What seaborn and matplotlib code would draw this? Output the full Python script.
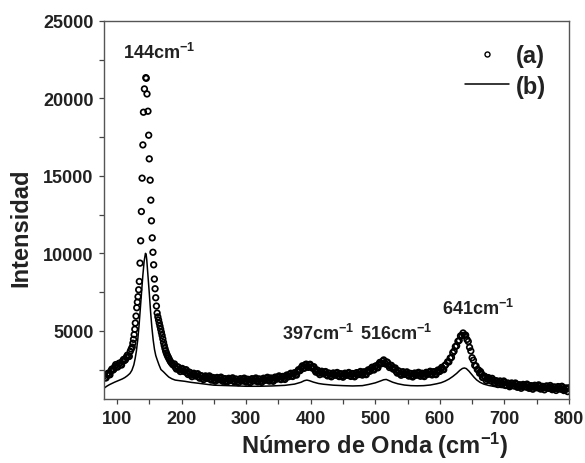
import numpy as np
import pandas as pd
import matplotlib
matplotlib.use("Agg")
import matplotlib.pyplot as plt
import seaborn as sns
from matplotlib.lines import Line2D
from matplotlib.ticker import MultipleLocator

# ==========================================
# Data
# ==========================================
# (a) open circles
x_a = [80, 83, 86, 89, 92, 95, 98, 101, 104, 107, 110, 113, 116, 119, 122,
       123.5, 124.5, 125.5, 126.5, 127.5, 128.3, 129.4, 130.5, 131.5, 132.5,
       133.5, 134.5, 135.6, 136.6, 137.7, 138.8, 140.0, 140.9, 142.4, 144.6,
       145.2, 146.4, 147.9, 149.0, 149.9, 151.3, 152.3, 153.3, 154.5, 155.6,
       156.7, 157.8, 158.9, 159.9, 161.0, 162.1, 163.2, 164.3, 165.4, 166.5,
       167.6, 168.7, 169.8, 170.9, 172.0, 173.1, 174.2, 175.3, 176.4, 177.5,
       178.6, 179.7, 181, 182.5, 184, 185.5, 187,
       189, 192, 195, 198, 201, 204, 207, 210, 213, 216, 219, 222, 225, 228,
       231, 234, 237, 240, 243, 246, 249, 252, 255, 258, 261, 264, 267, 270,
       273, 276, 279, 282, 285, 288, 291, 294, 297, 300, 303, 306, 309, 312,
       315, 318, 321, 324, 327, 330, 333, 336, 339, 342, 345, 348, 351, 354,
       357, 360, 363, 366, 369, 372, 375, 378, 381, 384, 387, 390, 393, 396,
       399, 402, 405, 408, 411, 414, 417, 420, 423, 426, 429, 432, 435, 438,
       441, 444, 447, 450, 453, 456, 459, 462, 465, 468, 471, 474, 477, 480,
       483, 486, 489, 492, 495, 498, 501, 504, 507, 510, 513, 516, 519, 522,
       525, 528, 531, 534, 537, 540, 543, 546, 549, 552, 555, 558, 561, 564,
       567, 570, 573, 576, 579, 582, 585, 588, 591, 594, 597, 600, 603, 606,
       609, 612, 614, 616, 618, 620, 622, 624, 626, 628, 630, 632, 634, 636,
       638, 640, 642, 644, 646, 648, 650, 652, 654, 656, 658, 660,
       663, 666, 669, 672, 675, 678, 681, 684, 687, 690, 693, 696, 699, 702,
       705, 708, 711, 714, 717, 720, 723, 726, 729, 732, 735, 738, 741, 744,
       747, 750, 753, 756, 759, 762, 765, 768, 771, 774, 777, 780, 783, 786,
       789, 792, 795, 798, 800]
y_a = [2090, 1960, 2260, 2160, 2530, 2510, 2820, 2660, 2920, 2790, 3150, 3130, 3430, 3350, 3820,
       3950, 4200, 4450, 4750, 5100, 5500, 5950, 6490, 6850, 7200,
       7650, 8185, 9370, 10810, 12700, 14855, 17000, 19110, 20614, 21343,
       21300, 20290, 19175, 17627, 16100, 14725, 13435, 12100, 11000, 10070,
       9260, 8340, 7715, 7135, 6600, 6145, 5900, 5700, 5500, 5300,
       5100, 4900, 4700, 4480, 4250, 4050, 3860, 3700, 3570, 3450,
       3350, 3260, 3150, 3030, 2940, 2860, 2790,
       2860, 2530, 2650, 2370, 2570, 2370, 2490, 2180, 2310, 2040, 2260, 2080, 2230, 1940,
       2090, 1850, 2090, 1930, 2090, 1815, 1980, 1745, 1990, 1840, 2010, 1740, 1910, 1680,
       1935, 1790, 1965, 1700, 1875, 1650, 1910, 1765, 1945, 1685, 1865, 1645, 1910, 1770,
       1955, 1700, 1885, 1670, 1940, 1810, 2000, 1750, 1945, 1740, 2015, 1890, 2090, 1850,
       2055, 1860, 2150, 2040, 2260, 2050, 2290, 2140, 2490, 2450, 2740, 2580, 2850, 2640,
       2840, 2600, 2680, 2330, 2440, 2170, 2390, 2220, 2370, 2090, 2260, 2030, 2280, 2135,
       2310, 2045, 2225, 2005, 2265, 2130, 2310, 2055, 2240, 2030, 2300, 2175, 2375, 2140,
       2350, 2170, 2480, 2400, 2650, 2470, 2740, 2610, 2960, 2890, 3120, 2850, 2960, 2630,
       2770, 2520, 2600, 2270, 2390, 2130, 2360, 2190, 2350, 2075, 2245, 2020, 2275, 2135,
       2320, 2065, 2255, 2045, 2320, 2200, 2390, 2150, 2360, 2170, 2470, 2380, 2640, 2490,
       2810, 3000, 2990, 3240, 3280, 3590, 3690, 3980, 4030, 4320, 4380, 4670, 4700, 4860,
       4710, 4720, 4440, 4310, 3930, 3700, 3260, 3100, 2770, 2730, 2500, 2470,
       2370, 1990, 2080, 1780, 1980, 1790, 1930, 1630, 1780, 1530, 1760, 1600, 1760, 1470,
       1630, 1390, 1630, 1470, 1630, 1355, 1520, 1290, 1540, 1390, 1560, 1290, 1460, 1230,
       1485, 1335, 1510, 1240, 1415, 1190, 1440, 1295, 1470, 1200, 1375, 1150, 1400, 1250,
       1420, 1145, 1310, 1075, 1325]

# (a) extra readings in between (the dense noisy band)
x_a_mid = [81.5, 84.5, 87.5, 90.5, 93.5, 96.5, 99.5, 102.5, 105.5, 108.5, 111.5, 114.5, 117.5, 120.5,
           190.5, 193.5, 196.5, 199.5, 202.5, 205.5, 208.5, 211.5, 214.5, 217.5, 220.5, 223.5,
           226.5, 229.5, 232.5, 235.5, 238.5, 241.5, 244.5, 247.5, 250.5, 253.5, 256.5, 259.5,
           262.5, 265.5, 268.5, 271.5, 274.5, 277.5, 280.5, 283.5, 286.5, 289.5, 292.5, 295.5,
           298.5, 301.5, 304.5, 307.5, 310.5, 313.5, 316.5, 319.5, 322.5, 325.5, 328.5, 331.5,
           334.5, 337.5, 340.5, 343.5, 346.5, 349.5, 352.5, 355.5, 358.5, 361.5, 364.5, 367.5,
           370.5, 373.5, 376.5, 379.5, 382.5, 385.5, 388.5, 391.5, 394.5, 397.5, 400.5, 403.5,
           406.5, 409.5, 412.5, 415.5, 418.5, 421.5, 424.5, 427.5, 430.5, 433.5, 436.5, 439.5,
           442.5, 445.5, 448.5, 451.5, 454.5, 457.5, 460.5, 463.5, 466.5, 469.5, 472.5, 475.5,
           478.5, 481.5, 484.5, 487.5, 490.5, 493.5, 496.5, 499.5, 502.5, 505.5, 508.5, 511.5,
           514.5, 517.5, 520.5, 523.5, 526.5, 529.5, 532.5, 535.5, 538.5, 541.5, 544.5, 547.5,
           550.5, 553.5, 556.5, 559.5, 562.5, 565.5, 568.5, 571.5, 574.5, 577.5, 580.5, 583.5,
           586.5, 589.5, 592.5, 595.5, 598.5, 601.5, 604.5, 607.5,
           661.5, 664.5, 667.5, 670.5, 673.5, 676.5, 679.5, 682.5, 685.5, 688.5, 691.5, 694.5,
           697.5, 700.5, 703.5, 706.5, 709.5, 712.5, 715.5, 718.5, 721.5, 724.5, 727.5, 730.5,
           733.5, 736.5, 739.5, 742.5, 745.5, 748.5, 751.5, 754.5, 757.5, 760.5, 763.5, 766.5,
           769.5, 772.5, 775.5, 778.5, 781.5, 784.5, 787.5, 790.5, 793.5, 796.5]
y_a_mid = [1965, 2200, 2170, 2415, 2460, 2695, 2680, 2880, 2815, 3040, 3080, 3310, 3330, 3675,
           2635, 2680, 2470, 2540, 2410, 2460, 2275, 2335, 2135, 2220, 2110, 2185,
           2025, 2105, 1930, 2040, 1950, 2040, 1890, 1990, 1820, 1940, 1855, 1955,
           1815, 1915, 1755, 1880, 1800, 1910, 1770, 1880, 1720, 1850, 1780, 1885,
           1755, 1865, 1715, 1850, 1780, 1890, 1770, 1880, 1740, 1875, 1815, 1935,
           1815, 1940, 1800, 1950, 1890, 2020, 1910, 2040, 1920, 2075, 2035, 2180,
           2095, 2260, 2175, 2385, 2410, 2625, 2600, 2805, 2705, 2810, 2660, 2670,
           2445, 2475, 2265, 2350, 2245, 2325, 2170, 2265, 2105, 2225, 2148, 2252,
           2118, 2225, 2075, 2205, 2138, 2250, 2122, 2238, 2095, 2235, 2178, 2305,
           2198, 2335, 2220, 2395, 2380, 2555, 2500, 2695, 2635, 2855, 2865, 3035,
           2925, 2995, 2755, 2770, 2585, 2590, 2375, 2420, 2220, 2315, 2215, 2300,
           2152, 2250, 2092, 2218, 2145, 2258, 2132, 2250, 2110, 2252, 2200, 2325,
           2210, 2345, 2225, 2390, 2365, 2540, 2505, 2740,
           2260, 2230, 1975, 2020, 1880, 1935, 1760, 1830, 1645, 1745, 1645, 1730,
           1580, 1665, 1490, 1600, 1510, 1600, 1450, 1542, 1378, 1495, 1415, 1515,
           1375, 1475, 1315, 1435, 1358, 1460, 1322, 1425, 1268, 1392, 1315, 1418,
           1282, 1385, 1228, 1352, 1275, 1375, 1235, 1332, 1168, 1282]

# (b) solid line
x_b = [80, 84, 88, 92, 96, 100, 104, 108, 112, 116, 120, 123, 126, 128, 130,
       132, 134, 136, 138, 140, 142, 144, 145, 146, 148, 150, 152, 154, 156,
       158, 160, 162, 165, 168, 172, 176, 180, 185, 190, 197, 205, 215, 225,
       240, 250, 265, 280, 300, 320, 340, 360, 375, 385, 390, 394, 398, 404,
       412, 420, 435, 450, 465, 480, 490, 500, 508, 513, 517, 521, 527, 535,
       545, 555, 565, 575, 585, 595, 602, 608, 614, 620, 626, 631, 635, 638,
       641, 645, 649, 653, 657, 662, 668, 676, 685, 695, 710, 730, 750, 770,
       790, 800]
y_b = [1300, 1420, 1520, 1600, 1680, 1750, 1820, 1890, 1980, 2100, 2250, 2450, 2800, 3200, 3700,
       4400, 5300, 6400, 7500, 8600, 9500, 10000, 9950, 9600, 8500, 7400, 6200, 5200, 4400,
       3800, 3400, 3150, 2800, 2500, 2350, 2180, 2020, 1900, 1820, 1780, 1740, 1670, 1620,
       1540, 1490, 1470, 1450, 1420, 1420, 1440, 1480, 1560, 1680, 1780, 1820, 1780, 1690,
       1600, 1550, 1490, 1460, 1440, 1460, 1540, 1640, 1760, 1840, 1860, 1790, 1680, 1580,
       1500, 1460, 1450, 1460, 1500, 1580, 1650, 1750, 1880, 2050, 2250, 2450, 2570, 2600,
       2560, 2400, 2200, 2000, 1830, 1680, 1560, 1470, 1400, 1340, 1280, 1230, 1190, 1150,
       1110, 1080]

peak_labels = ["144", "397", "516", "641"]
label_x = [109, 355, 476, 604]
label_y = [22600, 4490, 4490, 6100]

df_a = pd.concat([pd.DataFrame({"x": x_a, "y": y_a}),
                  pd.DataFrame({"x": x_a_mid, "y": y_a_mid})], ignore_index=True)
df_b = pd.DataFrame({"x": x_b, "y": y_b})

# ==========================================
# Plot
# ==========================================
sns.set_style("ticks")
plt.rcParams["font.family"] = ["Liberation Sans", "DejaVu Sans"]
plt.rcParams["font.weight"] = "bold"
plt.rcParams["mathtext.fontset"] = "custom"
plt.rcParams["mathtext.rm"] = "Liberation Sans:bold"
plt.rcParams["mathtext.bf"] = "Liberation Sans:bold"
plt.rcParams["mathtext.default"] = "bf"

text_color = "#222222"
fig = plt.figure(figsize=(5.85, 4.64), dpi=100)
ax = fig.add_axes([0.178, 0.138, 0.7946, 0.8146])

sns.lineplot(data=df_b, x="x", y="y", ax=ax, color="black", linewidth=1.1,
             sort=False, estimator=None)
sns.scatterplot(data=df_a, x="x", y="y", ax=ax, marker="o", s=16,
                facecolors="none", edgecolor="black", linewidth=1.25)

ax.set_xlim(80, 800)
ax.set_ylim(600, 25000)
ax.xaxis.set_major_locator(MultipleLocator(100))
ax.xaxis.set_minor_locator(MultipleLocator(50))
ax.yaxis.set_major_locator(MultipleLocator(5000))
ax.yaxis.set_minor_locator(MultipleLocator(2500))
ax.tick_params(which="both", direction="out", length=3.6, width=0.9,
               color="#444444", labelsize=13, labelcolor=text_color, pad=4)
ax.tick_params(top=False, right=False)
for sp in ax.spines.values():
    sp.set_visible(True)
    sp.set_color("#555555")
    sp.set_linewidth(1.0)

ax.set_xlabel(r"Número de Onda (cm$^{-1}$)", fontsize=17,
              fontweight="bold", color=text_color)
ax.set_ylabel("Intensidad", fontsize=17, fontweight="bold", color=text_color)
ax.xaxis.set_label_coords(0.583, -0.082)
ax.yaxis.set_label_coords(-0.155, 0.455)

for lab, lx, ly in zip(peak_labels, label_x, label_y):
    ax.text(lx, ly, lab + r"cm$^{-1}$", fontsize=13, fontweight="bold",
            color=text_color, ha="left", va="baseline")

handles = [
    Line2D([], [], linestyle="none", marker="o", markersize=3.6,
           markerfacecolor="none", markeredgecolor="black", markeredgewidth=1.0),
    Line2D([], [], color="black", linewidth=1.1),
]
ax.legend(handles, ["(a)", "(b)"], loc="upper right",
          bbox_to_anchor=(0.9505, 0.938), frameon=False, fontsize=17,
          handlelength=1.85, handletextpad=0.3, labelspacing=0.3,
          borderpad=0, borderaxespad=0, labelcolor=text_color)

fig.savefig("out.png", dpi=100)
